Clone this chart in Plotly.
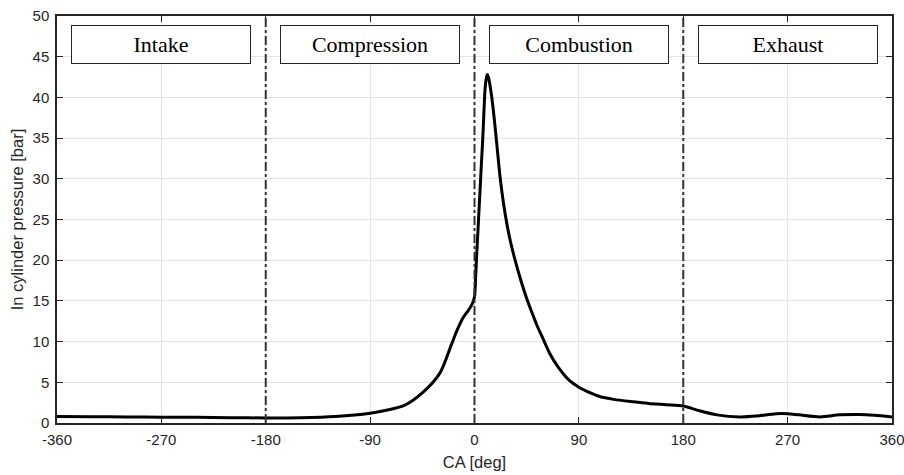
import plotly.graph_objects as go

# --- данные: угол поворота коленвала и давление в цилиндре ---
ca_deg = [-360, -330, -300, -270, -240, -210, -180, -150, -120, -90, -75, -60, -45,
          -30, -20, -15, -10, -5, -2, 0, 1, 2, 3, 4, 5, 6, 7, 8, 9, 10, 11, 12, 13,
          15, 17, 19, 22, 25, 28, 31, 35, 40, 45, 50, 54, 58, 65, 72, 82, 90, 100,
          108, 120, 137, 150, 165, 180, 194, 209, 229, 243, 260, 270, 280, 298, 315,
          332, 345, 360]
pressure_bar = [0.8, 0.78, 0.75, 0.72, 0.7, 0.66, 0.62, 0.65, 0.8, 1.2, 1.6, 2.2, 3.7,
                6.1, 9.6, 11.4, 12.9, 13.9, 14.6, 15.5, 18.0, 21.0, 23.7, 26.5, 29.2,
                32.0, 34.6, 37.8, 40.8, 42.2, 42.8, 42.5, 41.8, 39.9, 37.4, 34.6, 30.3,
                27.0, 24.4, 22.3, 20.0, 17.5, 15.3, 13.4, 11.95, 10.7, 8.5, 6.9, 5.2,
                4.4, 3.7, 3.25, 2.9, 2.6, 2.4, 2.25, 2.1, 1.5, 1.0, 0.75, 0.85, 1.15,
                1.15, 1.0, 0.75, 1.0, 1.05, 0.95, 0.75]

# границы тактов и их подписи
stroke_bounds = [-180, 0, 180]
stroke_names = ["Intake", "Compression", "Combustion", "Exhaust"]
stroke_centers = [-270, -90, 90, 270]

x_ticks = [-360, -270, -180, -90, 0, 90, 180, 270, 360]
y_ticks = [0, 5, 10, 15, 20, 25, 30, 35, 40, 45, 50]

axis_col = "#262626"
grid_col = "#e3e3e3"

fig = go.Figure()

fig.add_trace(go.Scatter(
    x=ca_deg, y=pressure_bar, mode="lines",
    line=dict(color="black", width=3, shape="spline", smoothing=0.8),
    showlegend=False, hoverinfo="skip"
))

# вертикальные штрих-пунктирные линии между тактами
for b in stroke_bounds:
    fig.add_shape(type="line", xref="x", yref="paper", x0=b, x1=b, y0=0, y1=1,
                  line=dict(color="#333333", width=2, dash="dashdot"))

# подписи тактов в рамках
for name, c in zip(stroke_names, stroke_centers):
    fig.add_annotation(
        x=c, y=46.55, xref="x", yref="y", text=name, showarrow=False,
        font=dict(family="Liberation Serif, Times New Roman, serif", size=22, color="black"),
        width=178, height=37, borderpad=0, bordercolor="#262626", borderwidth=1,
        bgcolor="white", xanchor="center", yanchor="middle"
    )

fig.update_layout(
    width=904, height=475,
    margin=dict(l=57, r=12, t=16, b=52),
    paper_bgcolor="white", plot_bgcolor="white",
    font=dict(family="Liberation Sans, Arial, Helvetica, sans-serif", size=15, color=axis_col),
    xaxis=dict(
        range=[-360, 360], tickvals=x_ticks, ticktext=[str(v) for v in x_ticks],
        showgrid=True, gridcolor=grid_col, gridwidth=1, zeroline=False,
        showline=True, linecolor=axis_col, linewidth=1.5, mirror="allticks",
        ticks="inside", ticklen=6, tickcolor=axis_col, automargin=False,
        ticklabelstandoff=2, ticklabeloverflow="allow",
        title=dict(text="CA [deg]", standoff=10, font=dict(size=16.5))
    ),
    yaxis=dict(
        range=[0, 50], tickvals=y_ticks,
        showgrid=True, gridcolor=grid_col, gridwidth=1, zeroline=False,
        showline=True, linecolor=axis_col, linewidth=1.5, mirror="allticks",
        ticks="inside", ticklen=6, tickcolor=axis_col, automargin=False,
        ticklabelstandoff=3, ticklabeloverflow="allow",
        title=dict(text="In cylinder pressure [bar]", standoff=5, font=dict(size=16.5))
    ),
)

# убираем отступ страницы, чтобы график стоял ровно в окне
fig.write_html("out.html", config={"displayModeBar": False},
               post_script="document.body.style.margin='0';")
